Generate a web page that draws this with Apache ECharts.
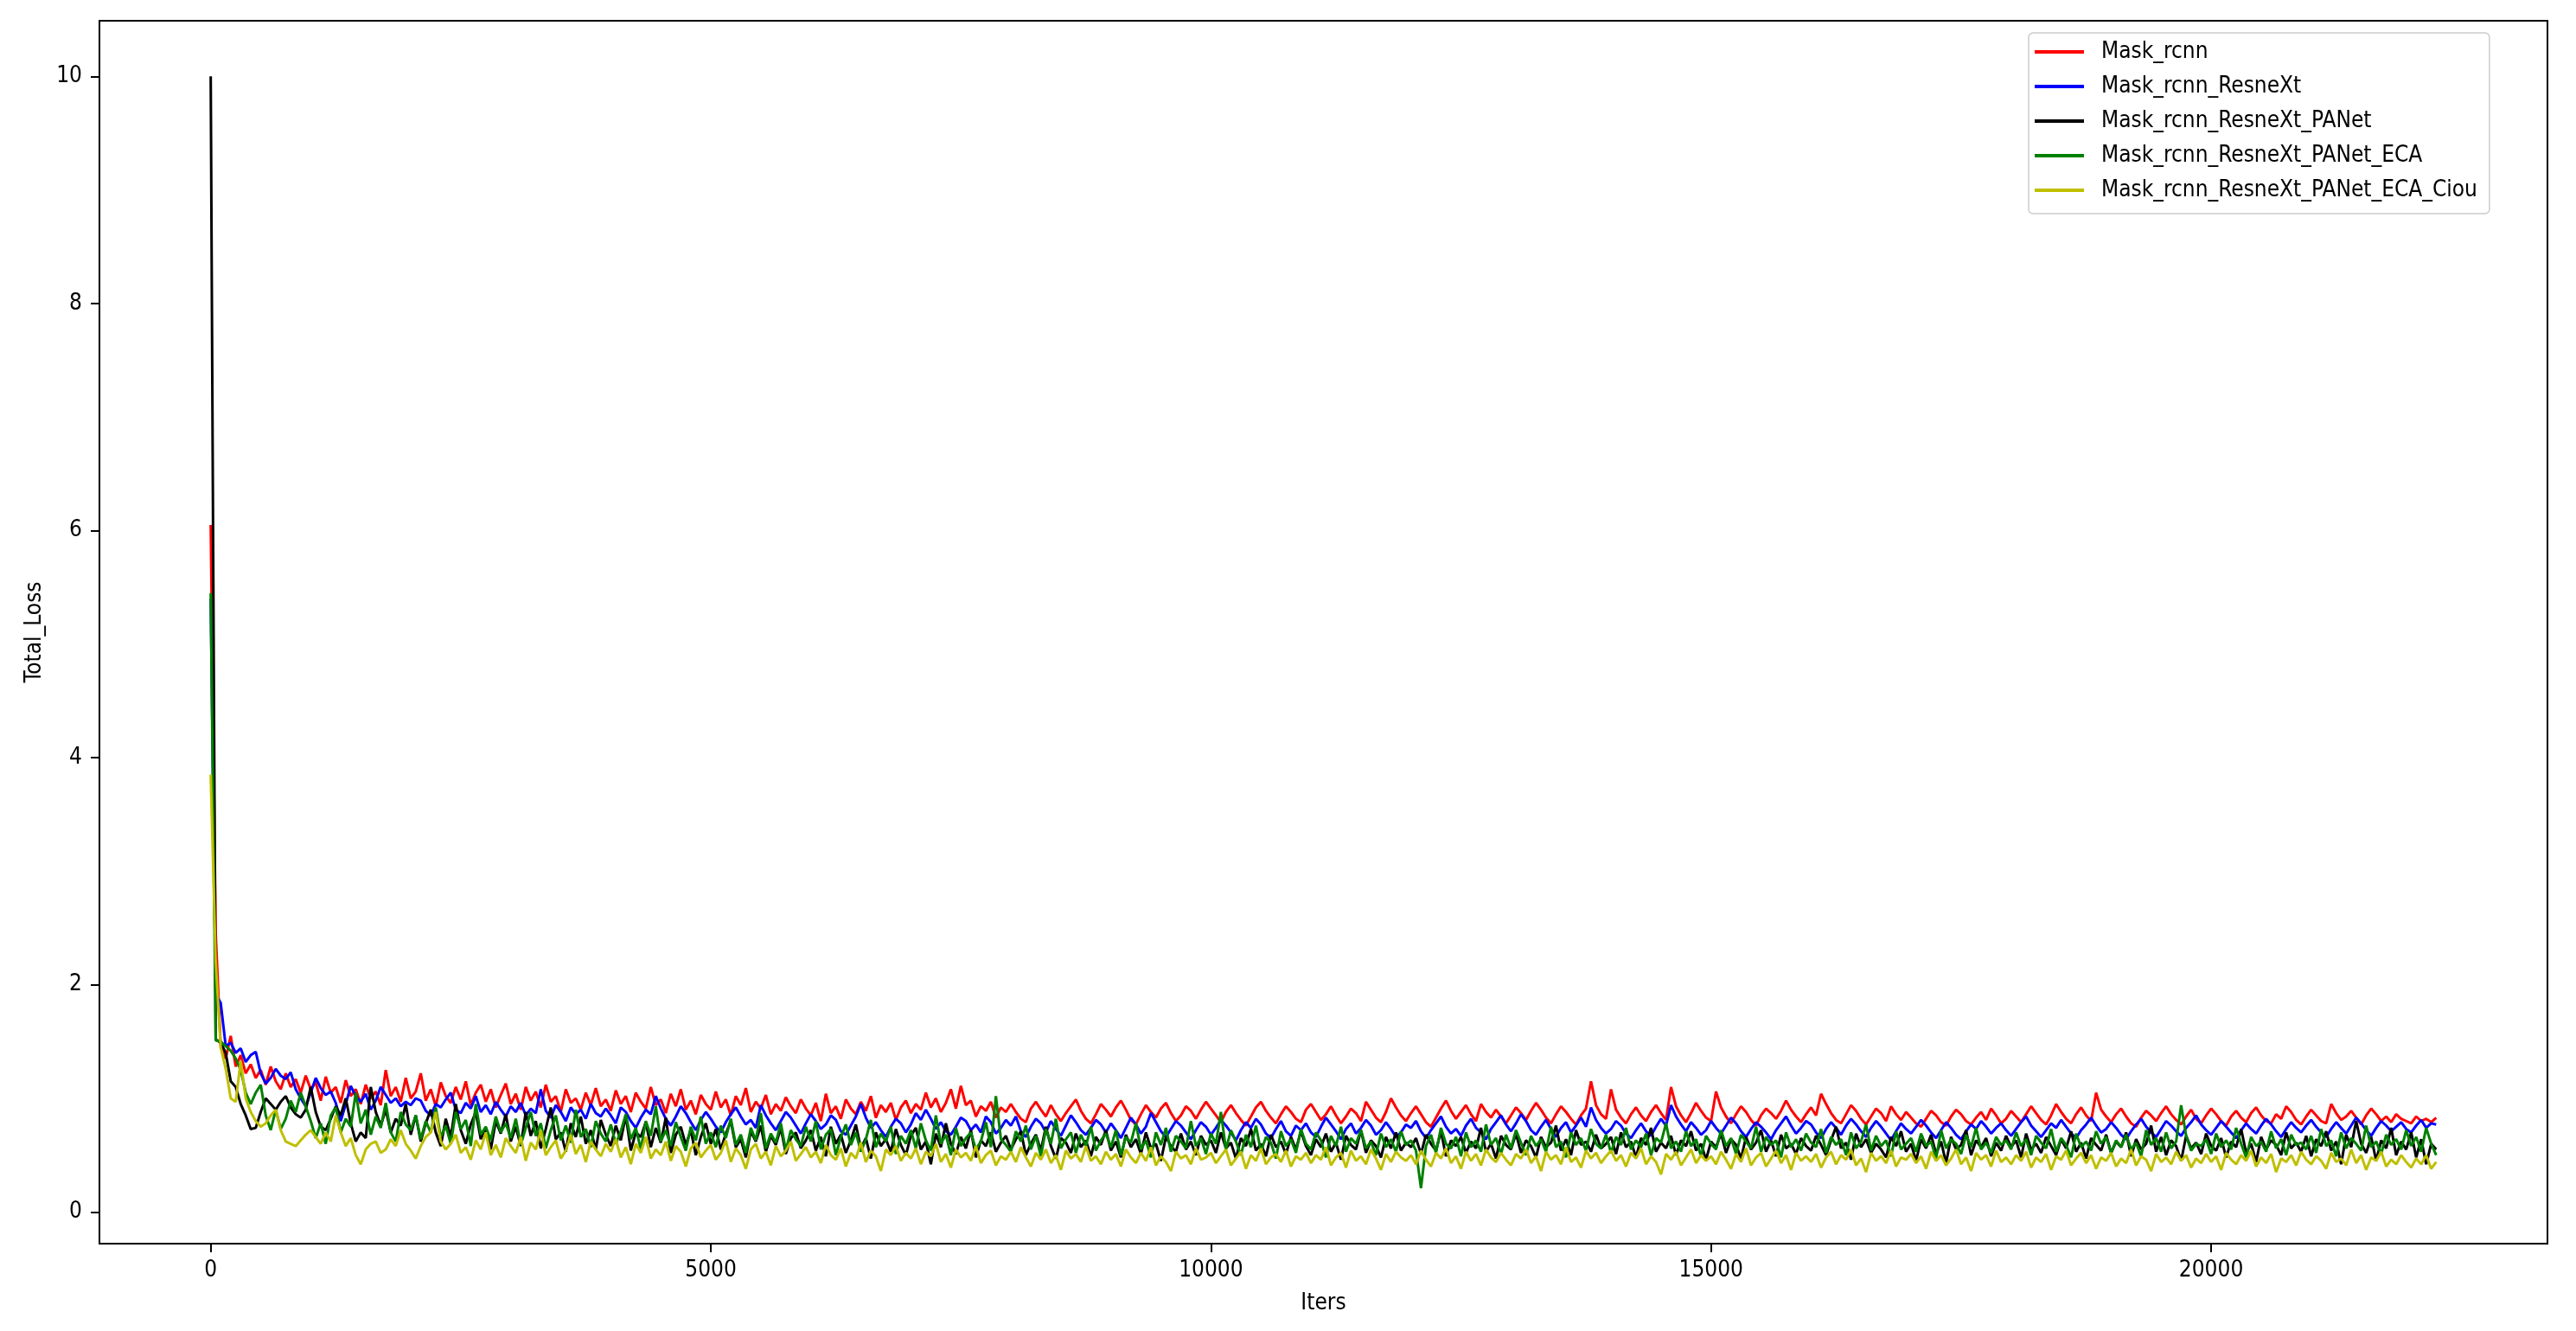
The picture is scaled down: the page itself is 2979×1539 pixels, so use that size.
<!DOCTYPE html>
<html><head><meta charset="utf-8">
<script src="https://cdn.jsdelivr.net/npm/echarts@6/dist/echarts.min.js"></script>
<style>html,body{margin:0;padding:0;background:#fff}#c{width:2979px;height:1539px}</style>
</head><body><div id="c"></div>
<script>
const seriesNames = ['Mask_rcnn','Mask_rcnn_ResneXt','Mask_rcnn_ResneXt_PANet','Mask_rcnn_ResneXt_PANet_ECA','Mask_rcnn_ResneXt_PANet_ECA_Ciou'];
const LOG_STEP = 50; // loss logged every 50 iterations

const maskRcnn = [
6.05,2.45,1.45,1.35,1.55,1.28,1.38,1.22,1.30,1.18,1.25,1.12,1.28,1.15,1.08,1.22,1.10,1.17,1.05,1.20,
1.08,1.14,.98,1.19,1.05,1.10,.96,1.16,1.02,1.08,.95,1.12,1.00,1.06,.94,1.25,1.02,1.10,.97,1.18,
1.00,1.06,1.22,.98,1.08,.93,1.14,1.02,.96,1.10,.99,1.15,.94,1.05,1.12,.97,1.08,.92,1.03,1.13,
.95,1.04,.90,1.10,.98,1.06,.92,1.12,.97,1.02,.88,1.08,.96,1.00,.90,1.05,.94,1.09,.93,.99,
.89,1.07,.95,1.02,.88,1.05,.97,.91,1.10,.94,.99,.87,1.04,.93,1.08,.90,.98,.86,1.03,.95,
.90,1.06,.92,.99,.85,1.02,.94,1.09,.88,.97,.91,1.03,.86,.95,.89,1.01,.93,.87,.99,.91,
.85,.96,.80,1.04,.87,.93,.82,.99,.91,.86,.97,.89,1.02,.83,.94,.88,.96,.81,.92,.98,
.87,.95,.90,1.05,.92,1.00,.88,.96,1.08,.91,1.11,.94,.98,.84,.93,.89,.97,.83,.92,.88,
.95,.88,.82,.79,.91,.97,.90,.84,.94,.86,.80,.87,.93,.99,.89,.82,.78,.86,.95,.90,
.84,.92,.98,.90,.81,.77,.86,.94,.88,.83,.91,.96,.87,.80,.85,.93,.89,.82,.90,.97,
.91,.85,.79,.88,.94,.87,.81,.76,.84,.92,.97,.89,.83,.78,.86,.93,.88,.82,.79,.90,
.95,.88,.81,.86,.93,.85,.78,.84,.91,.87,.80,.97,.90,.83,.79,.88,1.00,.92,.85,.80,
.87,.93,.86,.79,.75,.83,.91,.98,.89,.82,.88,.94,.86,.80,.95,.88,.83,.90,.84,.78,
.85,.92,.87,.81,.89,.96,.90,.83,.78,.86,.93,.88,.82,.77,.85,.91,1.15,.94,.86,.82,
1.08,.90,.83,.78,.86,.92,.85,.80,.88,.94,.87,.81,1.10,.93,.85,.79,.87,.96,.89,.83,
.80,1.06,.92,.84,.78,.86,.93,.88,.81,.76,.85,.91,.87,.82,.89,.98,.90,.84,.79,.86,
.92,.85,1.04,.95,.87,.81,.78,.86,.94,.89,.82,.77,.84,.91,.87,.80,.93,.86,.81,.88,
.83,.78,.75,.82,.89,.85,.79,.76,.84,.90,.86,.80,.77,.83,.88,.81,.91,.85,.78,.82,
.89,.84,.79,.86,.93,.87,.81,.77,.85,.95,.88,.82,.78,.86,.92,.85,.80,1.05,.90,.84,
.79,.86,.91,.84,.78,.75,.83,.89,.85,.80,.87,.93,.86,.81,.77,.84,.90,.82,.78,.85,
.91,.86,.80,.76,.84,.89,.83,.79,.87,.92,.85,.80,.78,.86,.82,.93,.88,.81,.77,.84,
.90,.85,.80,.78,.95,.87,.81,.84,.89,.83,.77,.85,.91,.86,.80,.84,.79,.86,.82,.80,
.78,.84,.80,.82,.79,.83
];

const maskRcnnResneXt = [
5.40,1.92,1.84,1.46,1.49,1.40,1.44,1.32,1.38,1.41,1.22,1.13,1.18,1.26,1.20,1.17,1.23,1.08,1.00,.93,
1.05,1.18,1.09,1.03,1.06,.96,.80,.95,1.11,1.02,.97,1.04,.90,.98,1.10,1.03,.96,1.00,.93,.97,
.94,1.00,.98,.89,.85,.95,.92,.99,1.05,.90,.87,.96,.91,1.02,.88,.94,.86,.97,.90,.84,
.93,.88,.96,.85,.91,.87,1.08,.89,.83,.94,.88,.80,.92,.86,.90,.82,.95,.87,.84,.91,
.85,.78,.92,.88,.80,.74,.83,.90,.86,1.02,.91,.82,.76,.84,.93,.87,.79,.72,.81,.88,
.82,.75,.70,.79,.86,.92,.84,.77,.81,.74,.94,.85,.78,.72,.80,.88,.83,.76,.69,.78,
.86,.80,.73,.77,.85,.81,.71,.68,.76,.84,.95,.83,.74,.79,.72,.66,.75,.82,.78,.70,
.77,.87,.81,.90,.82,.73,.79,.71,.68,.75,.83,.80,.72,.77,.70,.84,.79,.69,.74,.81,
.76,.84,.71,.66,.75,.82,.78,.70,.80,.73,.67,.76,.85,.79,.72,.68,.74,.81,.77,.70,
.78,.72,.65,.74,.83,.77,.69,.75,.87,.79,.71,.66,.73,.80,.76,.70,.64,.72,.79,.75,
.68,.74,.81,.76,.70,.63,.72,.79,.74,.82,.77,.69,.65,.73,.80,.71,.67,.76,.72,.78,
.70,.66,.75,.83,.77,.71,.64,.73,.78,.69,.74,.81,.76,.68,.72,.79,.73,.66,.70,.77,
.74,.80,.71,.65,.72,.78,.84,.75,.69,.73,.67,.76,.82,.74,.70,.64,.73,.79,.85,.77,
.71,.78,.86,.80,.72,.68,.75,.81,.73,.66,.74,.79,.70,.76,.83,.75,.92,.81,.74,.69,
.73,.80,.76,.69,.65,.72,.78,.71,.67,.75,.82,.76,.94,.84,.77,.71,.79,.74,.68,.72,
.80,.74,.69,.76,.83,.78,.71,.66,.73,.79,.75,.70,.64,.72,.78,.84,.76,.69,.74,.80,
.77,.70,.65,.73,.79,.74,.68,.76,.82,.77,.71,.66,.74,.80,.75,.69,.63,.71,.78,.73,
.69,.75,.81,.76,.70,.65,.72,.79,.74,.68,.64,.71,.77,.73,.80,.75,.69,.74,.78,.72,
.67,.73,.79,.84,.76,.71,.66,.72,.78,.74,.81,.75,.69,.65,.72,.77,.83,.76,.70,.73,
.79,.74,.68,.64,.71,.77,.82,.75,.70,.66,.73,.80,.76,.71,.67,.74,.79,.85,.77,.72,
.68,.74,.80,.75,.70,.65,.72,.78,.73,.69,.76,.82,.77,.71,.66,.73,.79,.74,.70,.76,
.81,.75,.70,.66,.73,.79,.74,.69,.76,.83,.78,.72,.67,.74,.80,.76,.71,.75,.79,.73,
.70,.76,.81,.74,.78,.77
];

const maskRcnnResneXtPANet = [
10.0,1.52,1.49,1.40,1.15,1.10,.95,.85,.73,.74,.88,1.00,.95,.90,.97,1.02,.92,.86,.83,.90,
1.10,.88,.75,.72,.82,.93,.85,1.00,.78,.62,.70,.65,1.10,.88,.76,.90,.70,.82,.76,.95,
.68,.85,.62,.78,.90,.70,.58,.82,.66,.95,.72,.60,.77,.88,.64,.74,.55,.80,.69,.86,
.62,.75,.58,.88,.67,.80,.56,.73,.92,.64,.70,.53,.78,.66,.84,.60,.72,.55,.81,.68,
.58,.76,.63,.85,.54,.70,.66,.79,.57,.74,.61,.83,.52,.68,.75,.59,.72,.50,.66,.78,
.60,.73,.55,.69,.80,.57,.64,.48,.71,.62,.76,.53,.67,.59,.74,.51,.65,.70,.56,.63,
.72,.54,.66,.49,.75,.60,.68,.52,.63,.77,.56,.65,.47,.70,.58,.64,.53,.73,.59,.50,
.67,.74,.55,.62,.42,.69,.57,.78,.60,.51,.66,.56,.72,.48,.63,.58,.70,.53,.61,.67,
.55,.64,.71,.50,.60,.68,.54,.75,.58,.47,.65,.61,.52,.69,.57,.63,.49,.66,.59,.72,
.54,.62,.48,.68,.57,.64,.51,.70,.56,.60,.45,.66,.58,.53,.69,.55,.62,.50,.67,.59,
.63,.52,.70,.56,.61,.47,.65,.58,.73,.54,.60,.49,.68,.57,.62,.51,.66,.55,.71,.58,
.50,.64,.57,.69,.53,.61,.46,.67,.59,.55,.72,.52,.63,.58,.48,.66,.56,.70,.54,.61,
.57,.65,.51,.68,.60,.54,.71,.49,.63,.58,.66,.52,.62,.56,.74,.53,.60,.47,.67,.59,
.55,.69,.52,.63,.58,.48,.66,.57,.61,.76,.54,.64,.50,.72,.59,.62,.53,.68,.56,.60,
.66,.51,.70,.57,.62,.48,.65,.59,.74,.53,.61,.56,.67,.50,.63,.58,.71,.54,.60,.46,
.62,.57,.69,.52,.64,.59,.47,.66,.55,.61,.72,.53,.63,.49,.68,.56,.60,.51,.65,.58,
.54,.67,.59,.50,.63,.75,.56,.61,.46,.69,.57,.64,.52,.60,.55,.48,.66,.58,.71,.53,
.60,.45,.64,.56,.68,.51,.62,.43,.66,.55,.59,.72,.50,.63,.57,.65,.49,.61,.54,.67,
.57,.63,.48,.69,.55,.60,.52,.66,.58,.50,.64,.56,.71,.53,.61,.47,.65,.59,.54,.68,
.52,.62,.57,.70,.49,.64,.55,.60,.76,.53,.66,.50,.63,.58,.45,.67,.56,.61,.51,.69,
.58,.54,.65,.48,.62,.57,.73,.52,.60,.44,.66,.55,.63,.59,.50,.70,.56,.61,.53,.67,
.49,.64,.58,.71,.54,.62,.42,.68,.57,.80,.60,.52,.66,.45,.63,.56,.74,.50,.62,.55,
.70,.48,.64,.42,.60,.55
];

const maskRcnnResneXtPANetECA = [
5.45,1.51,1.50,1.46,1.42,1.35,1.25,1.05,.95,1.05,1.12,.85,.72,.90,.73,.82,.98,.88,1.05,.93,
.80,.65,.78,.60,.85,.92,.70,.82,.75,1.05,.78,.90,.68,.84,.74,.96,.70,.62,.88,.77,
.72,.85,.64,.80,.70,.92,.66,.76,.60,.88,.73,.81,.58,.95,.68,.75,.63,.84,.70,.78,
.65,.82,.59,.74,.88,.67,.78,.56,.72,.85,.63,.76,.61,.90,.66,.73,.57,.80,.69,.62,
.77,.60,.71,.86,.64,.74,.55,.80,.67,.93,.62,.72,.58,.79,.66,.54,.75,.63,.84,.60,
.70,.57,.76,.65,.82,.59,.68,.52,.74,.63,.87,.56,.69,.61,.78,.54,.72,.64,.58,.75,
.62,.80,.55,.68,.73,.50,.66,.77,.59,.70,.53,.64,.81,.57,.69,.62,.75,.51,.67,.60,
.72,.56,.78,.63,.54,.85,.60,.68,.50,.74,.58,.65,.70,.55,.62,.79,.57,1.02,.64,.59,
.53,.71,.62,.76,.55,.67,.49,.73,.60,.82,.56,.64,.70,.52,.68,.58,.75,.54,.63,.69,
.57,.72,.50,.66,.61,.78,.55,.63,.48,.70,.59,.74,.53,.67,.62,.56,.80,.58,.65,.51,
.69,.60,.88,.55,.72,.62,.50,.68,.57,.76,.53,.66,.61,.47,.71,.58,.64,.52,.73,.60,
.55,.70,.63,.48,.67,.58,.75,.53,.65,.60,.72,.56,.62,.50,.69,.57,.64,.53,.71,.59,
.63,.54,.21,.58,.68,.52,.74,.60,.56,.66,.49,.70,.57,.63,.53,.77,.59,.65,.51,.68,
.56,.72,.61,.50,.67,.58,.64,.53,.75,.57,.62,.48,.70,.59,.65,.54,.73,.60,.56,.68,
.52,.66,.59,.74,.55,.63,.57,.69,.50,.65,.61,.78,.56,.62,.53,.71,.58,.64,.49,.67,
.60,.55,.72,.58,.65,.51,.68,.62,.56,.75,.53,.66,.59,.63,.48,.70,.57,.64,.54,.69,
.61,.57,.73,.52,.66,.59,.64,.50,.70,.56,.62,.77,.54,.67,.58,.63,.49,.71,.55,.60,
.65,.53,.69,.58,.62,.47,.72,.56,.64,.60,.51,.68,.57,.74,.55,.61,.52,.66,.59,.63,
.55,.70,.58,.64,.50,.67,.61,.56,.73,.53,.65,.59,.48,.69,.57,.62,.54,.71,.60,.66,
.52,.63,.57,.68,.55,.61,.49,.72,.59,.65,.53,.70,.56,.62,.94,.67,.54,.60,.58,.64,
.51,.69,.57,.63,.55,.74,.60,.48,.66,.58,.62,.53,.71,.56,.64,.50,.68,.59,.61,.55,
.67,.52,.73,.58,.63,.49,.70,.56,.65,.60,.54,.76,.57,.62,.51,.68,.59,.64,.55,.72,
.58,.66,.53,.74,.60,.50
];

const maskRcnnResneXtPANetECACiou = [
3.85,2.20,1.45,1.26,1.00,.97,1.33,1.00,.88,.80,.75,.78,.85,.90,.72,.62,.60,.58,.63,.68,
.72,.66,.60,.70,.62,.85,.70,.58,.65,.50,.42,.55,.60,.62,.52,.55,.64,.58,.72,.60,
.54,.47,.58,.66,.70,.88,.62,.55,.60,.68,.52,.57,.46,.63,.55,.70,.50,.59,.48,.65,
.58,.52,.66,.45,.61,.55,.72,.50,.57,.63,.47,.54,.68,.51,.59,.44,.62,.55,.49,.60,
.53,.64,.48,.57,.42,.60,.52,.66,.47,.55,.50,.62,.45,.58,.53,.40,.56,.61,.48,.54,
.59,.46,.52,.63,.44,.56,.50,.38,.55,.60,.47,.53,.41,.58,.49,.54,.62,.45,.51,.57,
.48,.53,.43,.59,.50,.46,.56,.40,.52,.47,.61,.44,.54,.49,.36,.55,.50,.58,.45,.52,
.47,.56,.42,.53,.49,.60,.44,.51,.39,.55,.48,.52,.45,.58,.43,.50,.54,.41,.49,.46,
.53,.44,.57,.48,.40,.52,.46,.55,.43,.50,.37,.54,.47,.51,.44,.58,.45,.49,.42,.53,
.46,.51,.40,.55,.48,.43,.52,.45,.57,.41,.49,.44,.36,.53,.47,.50,.42,.56,.46,.48,
.52,.43,.49,.55,.41,.47,.53,.38,.50,.45,.56,.42,.48,.51,.44,.54,.40,.49,.46,.52,
.43,.50,.46,.57,.41,.48,.52,.39,.54,.45,.49,.42,.55,.47,.37,.51,.44,.53,.48,.45,
.50,.42,.54,.46,.40,.52,.47,.56,.43,.49,.38,.53,.45,.51,.41,.55,.48,.44,.52,.46,
.41,.51,.47,.55,.43,.49,.36,.53,.46,.50,.42,.57,.44,.48,.39,.54,.47,.52,.43,.49,
.54,.45,.50,.40,.52,.47,.56,.42,.49,.44,.33,.51,.46,.53,.41,.48,.55,.43,.50,.45,
.49,.42,.53,.46,.38,.51,.44,.56,.41,.48,.52,.40,.47,.54,.43,.50,.37,.52,.45,.49,
.44,.51,.39,.48,.53,.42,.50,.46,.55,.41,.47,.35,.52,.45,.49,.43,.54,.40,.48,.46,
.51,.43,.49,.38,.53,.45,.50,.41,.47,.55,.42,.48,.36,.52,.46,.50,.40,.54,.44,.48,
.42,.50,.45,.53,.39,.48,.44,.51,.37,.49,.46,.54,.41,.47,.52,.43,.50,.38,.48,.45,
.52,.40,.47,.43,.55,.41,.49,.46,.36,.51,.44,.48,.42,.53,.45,.50,.39,.47,.43,.51,
.44,.49,.37,.52,.46,.42,.50,.45,.54,.40,.48,.43,.51,.35,.47,.44,.50,.41,.53,.46,
.42,.49,.45,.38,.52,.44,.47,.41,.55,.43,.50,.37,.48,.45,.53,.40,.46,.42,.50,.44,
.39,.47,.42,.50,.38,.44
];

const xTicks = [0, 5000, 10000, 15000, 20000];
const yTicks = [0, 2, 4, 6, 8, 10];
const colors = ['#ff0000', '#0000ff', '#000000', '#008000', '#bfbf00'];

const allSeries = [maskRcnn, maskRcnnResneXt, maskRcnnResneXtPANet, maskRcnnResneXtPANetECA, maskRcnnResneXtPANetECACiou];
const iters = maskRcnn.map((_, i) => i * LOG_STEP);

// matplotlib-like 5% margins around the data extent
const xLast = iters[iters.length - 1];
const xPad = xLast * 0.05;
const flat = allSeries.flat();
const yMin = Math.min(...flat), yMax = Math.max(...flat);
const yPad = (yMax - yMin) * 0.05;

const FONT = 'DejaVu Sans Condensed, DejaVu Sans, sans-serif';
const txt = { color: '#000', fontSize: 26, fontFamily: FONT };

const chart = echarts.init(document.getElementById('c'), null, { renderer: 'canvas' });
chart.setOption({
  animation: false,
  backgroundColor: '#fff',
  grid: { left: 115, right: 33, top: 24, bottom: 101, show: true, borderColor: '#000', borderWidth: 2, backgroundColor: 'transparent' },
  legend: {
    left: 2346, top: 38, orient: 'vertical',
    data: seriesNames,
    icon: 'rect', itemWidth: 57, itemHeight: 4, itemGap: 10,
    padding: [7, 14, 12, 7],
    borderColor: '#cccccc', borderWidth: 1.5, borderRadius: 5,
    backgroundColor: 'rgba(255,255,255,0.8)',
    textStyle: Object.assign({}, txt, { lineHeight: 30, padding: [0, 0, 0, 15] }),
    selectedMode: false
  },
  xAxis: {
    type: 'value', min: -xPad, max: xLast + xPad,
    splitLine: { show: false },
    axisLine: { show: false, onZero: false },
    axisTick: { show: true, customValues: xTicks, length: 10, lineStyle: { color: '#000', width: 2 } },
    axisLabel: Object.assign({ customValues: xTicks, margin: 18, formatter: v => String(v) }, txt),
    name: 'Iters', nameLocation: 'middle', nameGap: 56, nameTextStyle: txt
  },
  yAxis: {
    type: 'value', min: yMin - yPad, max: yMax + yPad,
    splitLine: { show: false },
    axisLine: { show: false, onZero: false },
    axisTick: { show: true, customValues: yTicks, length: 10, lineStyle: { color: '#000', width: 2 } },
    axisLabel: Object.assign({ customValues: yTicks, margin: 20, formatter: v => String(v) }, txt),
    name: 'Total_Loss', nameLocation: 'middle', nameGap: 62, nameRotate: 90, nameTextStyle: txt
  },
  series: allSeries.map((vals, k) => ({
    name: seriesNames[k], type: 'line',
    data: vals.map((v, i) => [iters[i], v]),
    showSymbol: false, symbol: 'none',
    lineStyle: { color: colors[k], width: 3 },
    itemStyle: { color: colors[k] },
    emphasis: { disabled: true },
    silent: true
  }))
});
</script>
</body></html>
